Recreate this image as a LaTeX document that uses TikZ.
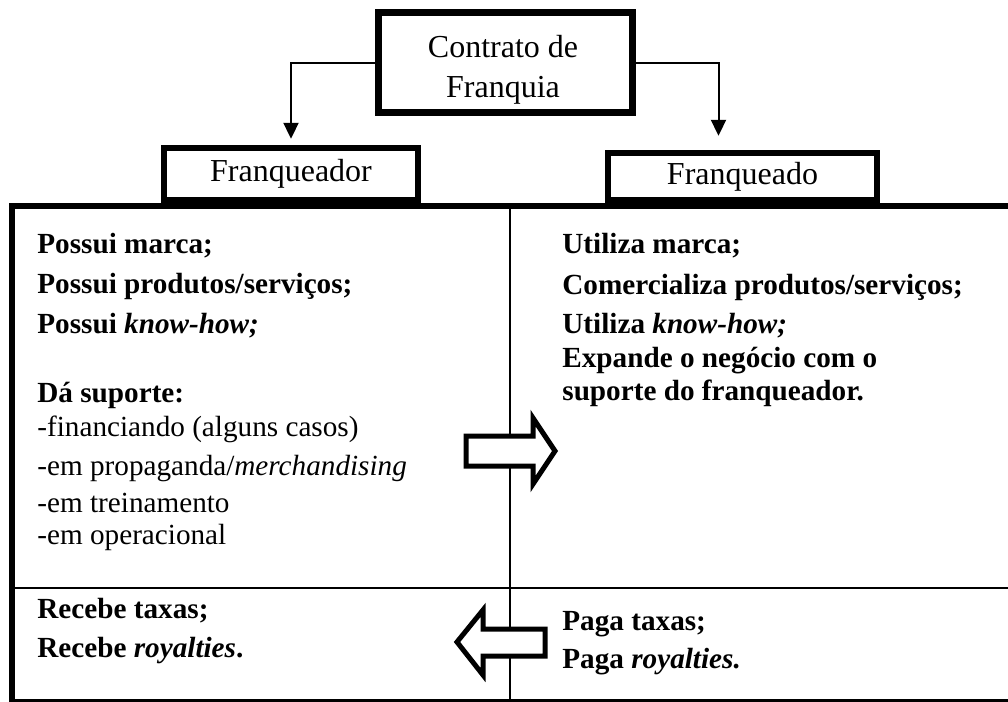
\documentclass[tikz,border=0pt]{standalone}
\usepackage{fontspec}
\setmainfont{Liberation Serif}
\usetikzlibrary{arrows.meta}

\begin{document}
\begin{tikzpicture}[x=0.5pt, y=-0.5pt,
    box/.style={draw, line width=3.2pt, inner sep=0pt, font=\fontsize{16}{20}\selectfont},
    boxtext/.style={inner sep=0pt, align=center, font=\fontsize{16}{20}\selectfont},
    link/.style={line width=1pt, -{Triangle[width=7.5pt, length=8pt]}},
    item/.style={anchor=base west, inner sep=0pt, font=\fontsize{14.6}{17}\selectfont},
    bitem/.style={item, font=\fontsize{14.6}{17}\selectfont\bfseries},
    fatarrow/.style={draw, line width=2.5pt, fill=white, line join=miter}]
    \useasboundingbox (0, 0) rectangle (1008, 702);
    % quadro
    \draw [line width=3pt]    (1008, 206) -- (12, 206) -- (12, 702);
    \draw [line width=1pt]    (510, 209) -- (510, 700);
    \draw [line width=1.25pt] (15, 588) -- (1008, 588);
    \draw [line width=1.5pt]  (15, 700.5) -- (1008, 700.5);
    % contrato
    \node [box, minimum width=127pt, minimum height=50pt] (ctr) at (505.5, 62.5) {};
    \node [boxtext] (ctrtxt) at (503, 69.6) {Contrato de\\Franquia};
    % partes
    \node [box, minimum width=127pt, minimum height=26pt]     (fdor) at (291, 174)     {Franqueador};
    \node [box, minimum width=134.5pt, minimum height=23.5pt] (fdo)  at (742.5, 176.5) {Franqueado};
    \draw [link, shorten >=3pt] (ctr.west) -| (fdor.north);
    \draw [link, shorten >=7pt] (ctr.east) -| ([xshift=-12pt]fdo.north);
    % franqueador
    \node [bitem] (p1) at (37, 253) {Possui marca;};
    \node [bitem] (p2) at (37, 293) {Possui produtos/serviços;};
    \node [bitem] (p3) at (37, 333) {Possui \textit{know-how;}};
    \node [bitem] (p4) at (37, 402) {Dá suporte:};
    \node [item]  (p5) at (37, 436) {-financiando (alguns casos)};
    \node [item]  (p6) at (37, 475) {-em propaganda/\textit{merchandising}};
    \node [item]  (p7) at (37, 512) {-em treinamento};
    \node [item]  (p8) at (37, 544) {-em operacional};
    % franqueado
    \node [bitem] (u1) at (562, 253) {Utiliza marca;};
    \node [bitem] (u2) at (562, 294) {Comercializa produtos/serviços;};
    \node [bitem] (u3) at (562, 333) {Utiliza \textit{know-how;}};
    \node [bitem] (u4) at (562, 367) {Expande o negócio com o};
    \node [bitem] (u5) at (562, 400) {suporte do franqueador.};
    % taxas
    \node [bitem] (r1) at (37, 618)  {Recebe taxas;};
    \node [bitem] (r2) at (37, 657)  {Recebe \textit{royalties}.};
    \node [bitem] (g1) at (562, 630) {Paga taxas;};
    \node [bitem] (g2) at (562, 668) {Paga \textit{royalties.}};
    % setas
    \draw [fatarrow] (466, 436) -- (533, 436) -- (533, 418) -- (555, 451)
      -- (533, 484) -- (533, 466) -- (466, 466) -- cycle;
    \draw [fatarrow] (457, 642) -- (483, 610) -- (483, 629) -- (545, 629)
      -- (545, 656) -- (483, 656) -- (483, 675) -- cycle;
\end{tikzpicture}
\end{document}
